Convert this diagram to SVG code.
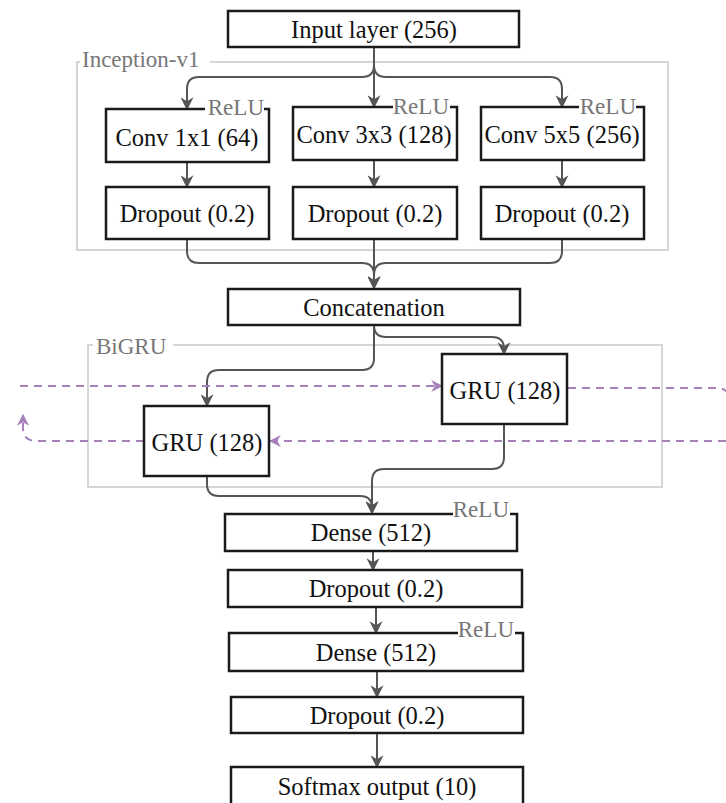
<svg xmlns="http://www.w3.org/2000/svg" width="726" height="803" viewBox="0 0 726 803">
<defs>
<style>
.box{fill:#fff;stroke:#1a1a1a;stroke-width:2.5}
.grp{fill:none;stroke:#d6d6d6;stroke-width:2}
.t{font-family:"Liberation Serif","Times New Roman",serif;font-size:24.5px;fill:#111;text-anchor:middle}
.lbl{font-family:"Liberation Serif","Times New Roman",serif;font-size:23px;fill:#777}
.relu{text-anchor:end}
.bg{fill:#fff;stroke:none}
.c{fill:none;stroke:#555;stroke-width:2;marker-end:url(#ah)}
.d{fill:none;stroke:#a680b8;stroke-width:2;stroke-dasharray:8 6}
</style>
<marker id="ah" viewBox="0 0 10 10" refX="9" refY="5" markerWidth="13" markerHeight="13" markerUnits="userSpaceOnUse" orient="auto">
<path d="M0,0 L10,5 L0,10 L3,5 Z" fill="#555"/>
</marker>
<marker id="ap" viewBox="0 0 10 10" refX="9" refY="5" markerWidth="12" markerHeight="12" markerUnits="userSpaceOnUse" orient="auto">
<path d="M0,0 L10,5 L0,10 L3,5 Z" fill="#a680b8"/>
</marker>
</defs>
<rect width="726" height="803" fill="#fff"/>

<g id="inception">
<rect class="grp" x="77" y="62" width="591" height="188"/>
<rect class="bg" x="80" y="52" width="130" height="16"/>
<text class="lbl" x="82" y="67">Inception-v1</text>
</g>
<g id="bigru">
<rect class="grp" x="88" y="345" width="574" height="142"/>
<rect class="bg" x="93" y="336" width="80" height="16"/>
<text class="lbl" x="96" y="354">BiGRU</text>
</g>

<g id="connectors">
<path class="c" d="M374,47 V107"/>
<path class="c" d="M374,47 V65 Q374,77 362,77 H199 Q187,77 187,89 V109"/>
<path class="c" d="M374,47 V65 Q374,77 386,77 H550 Q562,77 562,89 V107"/>
<path class="c" d="M187,162 V187"/>
<path class="c" d="M374,160 V187"/>
<path class="c" d="M562,160 V187"/>
<path class="c" d="M374,239 V288"/>
<path class="c" d="M187,239 V251 Q187,263 199,263 H362 Q374,263 374,275 V288"/>
<path class="c" d="M562,239 V251 Q562,263 550,263 H386 Q374,263 374,275 V288"/>
<path class="c" d="M374,325 Q374,337 386,337 H492 Q504,337 504,349 V354"/>
<path class="c" d="M374,325 V358 Q374,370 362,370 H219 Q207,370 207,382 V406"/>
<path class="c" d="M504,424 V457 Q504,469 492,469 H384 Q372,469 372,481 V513"/>
<path class="c" d="M207,476 V484 Q207,496 219,496 H360 Q372,496 372,508 V513"/>
<path class="c" d="M373,551 V570"/>
<path class="c" d="M376,607 V633"/>
<path class="c" d="M377,671 V697"/>
<path class="c" d="M377,733 V767"/>
<path class="d" d="M20,386 H442" marker-end="url(#ap)"/>
<path class="d" d="M568,388 H716 Q730,388 730,402 V430"/>
<path class="d" d="M740,441 H270" marker-end="url(#ap)"/>
<path class="d" d="M144,441 H36 Q23,441 23,428 V415" marker-end="url(#ap)"/>
</g>

<g id="input">
<rect class="box" x="228" y="11" width="291" height="36"/>
<text class="t" x="374" y="38">Input layer (256)</text>
</g>
<g id="conv1">
<rect class="box" x="106" y="109" width="163" height="53"/>
<rect class="bg" x="205" y="104" width="59" height="10"/>
<text class="lbl relu" x="264" y="115">ReLU</text>
<text class="t" x="187" y="146">Conv 1x1 (64)</text>
</g>
<g id="conv3">
<rect class="box" x="293" y="107" width="164" height="53"/>
<rect class="bg" x="393" y="102" width="57" height="10"/>
<text class="lbl relu" x="449" y="114">ReLU</text>
<text class="t" x="374" y="143">Conv 3x3 (128)</text>
</g>
<g id="conv5">
<rect class="box" x="481" y="107" width="163" height="53"/>
<rect class="bg" x="579" y="102" width="57" height="10"/>
<text class="lbl relu" x="636" y="114">ReLU</text>
<text class="t" x="562" y="143">Conv 5x5 (256)</text>
</g>
<g id="drop1">
<rect class="box" x="106" y="187" width="163" height="52"/>
<text class="t" x="187" y="222">Dropout (0.2)</text>
</g>
<g id="drop2">
<rect class="box" x="293" y="187" width="164" height="52"/>
<text class="t" x="375" y="222">Dropout (0.2)</text>
</g>
<g id="drop3">
<rect class="box" x="481" y="187" width="163" height="52"/>
<text class="t" x="562" y="222">Dropout (0.2)</text>
</g>
<g id="concat">
<rect class="box" x="228" y="289" width="292" height="36"/>
<text class="t" x="374" y="316">Concatenation</text>
</g>
<g id="gru_fwd">
<rect class="box" x="442" y="354" width="125" height="70"/>
<text class="t" x="505" y="399">GRU (128)</text>
</g>
<g id="gru_bwd">
<rect class="box" x="144" y="406" width="125" height="70"/>
<text class="t" x="207" y="451">GRU (128)</text>
</g>
<g id="dense1">
<rect class="box" x="225" y="514" width="292" height="37"/>
<rect class="bg" x="453" y="509" width="57" height="10"/>
<text class="lbl relu" x="509" y="517">ReLU</text>
<text class="t" x="371" y="541">Dense (512)</text>
</g>
<g id="drop4">
<rect class="box" x="228" y="570" width="294" height="37"/>
<text class="t" x="376" y="597">Dropout (0.2)</text>
</g>
<g id="dense2">
<rect class="box" x="229" y="633" width="294" height="38"/>
<rect class="bg" x="458" y="628" width="57" height="10"/>
<text class="lbl relu" x="514" y="637">ReLU</text>
<text class="t" x="376" y="661">Dense (512)</text>
</g>
<g id="drop5">
<rect class="box" x="231" y="697" width="292" height="36"/>
<text class="t" x="377" y="724">Dropout (0.2)</text>
</g>
<g id="softmax">
<rect class="box" x="231" y="767" width="292" height="40"/>
<text class="t" x="377" y="795">Softmax output (10)</text>
</g>
</svg>
